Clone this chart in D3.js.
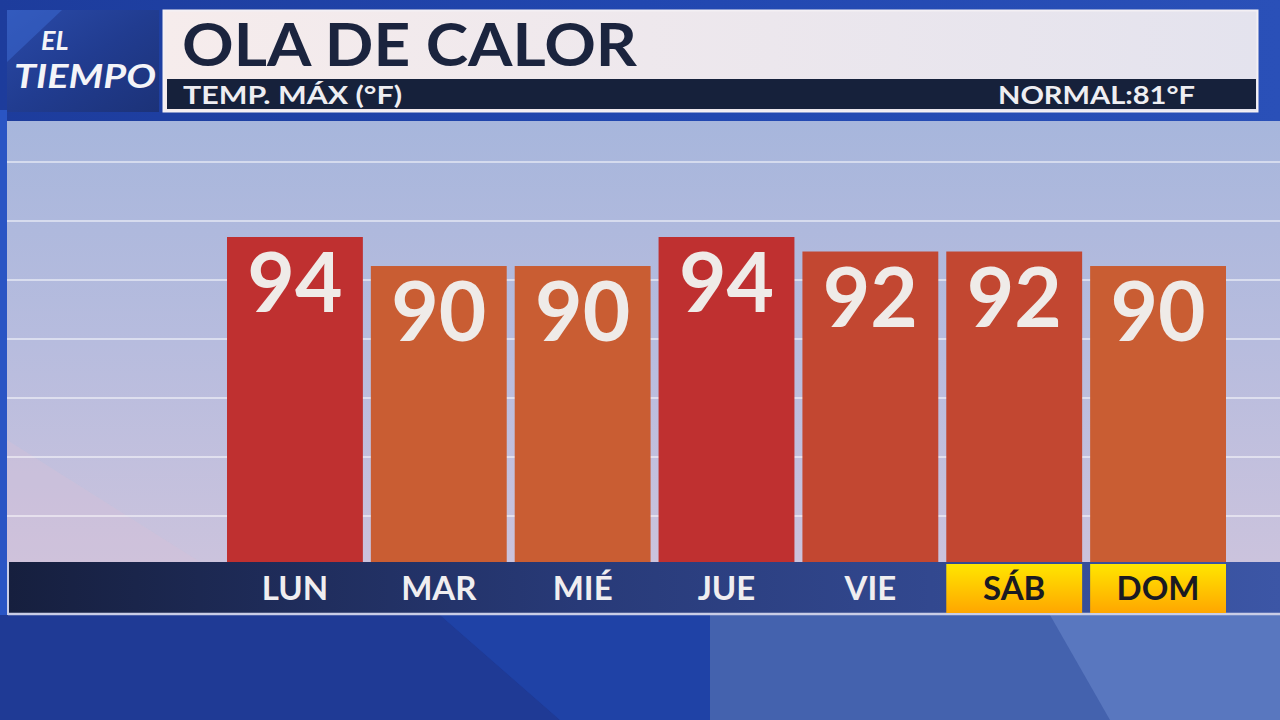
<!DOCTYPE html>
<html>
<head>
<meta charset="utf-8">
<script src="https://cdn.jsdelivr.net/npm/d3@7"></script>
<style>
  html, body { margin: 0; padding: 0; background: #1f3f9e; }
  svg { display: block; }
</style>
</head>
<body>
<svg id="chart" width="1280" height="720"></svg>
<script>
// ---- Data ----
const days = ["LUN", "MAR", "MIÉ", "JUE", "VIE", "SÁB", "DOM"];
const maxTemps = [94, 90, 90, 94, 92, 92, 90];
const weekendDays = ["SÁB", "DOM"];
const titleText = "OLA DE CALOR";
const subtitleLeft = "TEMP. MÁX (°F)";
const subtitleRight = "NORMAL:81°F";
const logoLines = ["EL", "TIEMPO"];

const W = 1280, H = 720;
const svg = d3.select("#chart");
const defs = svg.append("defs");

function linGrad(id, x1, y1, x2, y2, stops) {
  const g = defs.append("linearGradient").attr("id", id)
    .attr("x1", x1).attr("y1", y1).attr("x2", x2).attr("y2", y2);
  stops.forEach(s => g.append("stop").attr("offset", s[0]).attr("stop-color", s[1]));
}
linGrad("bgTop", "0", "0", "1", "0", [["0", "#1d3c9c"], ["0.5", "#2147b0"], ["1", "#2a50b8"]]);
linGrad("panelGrad", "0", "0", "0", "1", [["0", "#a7b6dc"], ["0.5", "#b7bcde"], ["1", "#cbc3dd"]]);
linGrad("axisGrad", "0", "0", "1", "0", [["0", "#161f3e"], ["0.45", "#283a78"], ["1", "#3c56a6"]]);
linGrad("yellowGrad", "0", "0", "0", "1", [["0", "#ffe600"], ["1", "#ffa600"]]);
linGrad("logoGrad", "0", "0", "1", "1", [["0", "#2a4aa8"], ["0.5", "#213c90"], ["1", "#1c3278"]]);
linGrad("titleGrad", "0", "0", "1", "0", [["0", "#f6ecec"], ["1", "#e4e3ee"]]);

// ---- Background ----
svg.append("rect").attr("x", 0).attr("y", 0).attr("width", W).attr("height", H).attr("fill", "#1f3e9e");
svg.append("rect").attr("x", 0).attr("y", 0).attr("width", W).attr("height", 122).attr("fill", "url(#bgTop)");
// bottom decorative planes
svg.append("path").attr("d", "M0,615 L440,615 L560,720 L0,720 Z").attr("fill", "#1f3a95");
svg.append("path").attr("d", "M440,615 L710,615 L710,720 L560,720 Z").attr("fill", "#1f42a6");
svg.append("path").attr("d", "M710,615 L1280,615 L1280,720 L710,720 Z").attr("fill", "#4462ae");
svg.append("path").attr("d", "M1050,615 L1280,615 L1280,720 L1110,720 Z").attr("fill", "#5d7bc2").attr("opacity", 0.85);
svg.append("rect").attr("x", 0).attr("y", 110).attr("width", 7).attr("height", 505).attr("fill", "#2a55c4");

// ---- Panel ----
const panel = { x0: 7, x1: 1280, y0: 121, y1: 562 };
svg.append("rect").attr("x", panel.x0).attr("y", panel.y0)
  .attr("width", panel.x1 - panel.x0).attr("height", panel.y1 - panel.y0)
  .attr("fill", "url(#panelGrad)");
svg.append("path")
  .attr("d", `M${panel.x0},440 L200,${panel.y1} L${panel.x0},${panel.y1} Z`)
  .attr("fill", "#d6c0d8").attr("opacity", 0.35);

// ---- Scales ----
const x = d3.scaleBand().domain(days).range([227, 1226]).paddingInner(8 / 144).paddingOuter(0);
const y = d3.scaleLinear().domain([49.2, 94]).range([panel.y1, 237]);
const color = d3.scaleOrdinal().domain([90, 92, 94]).range(["#c95d33", "#c24731", "#bf3030"]);

// decorative gridlines (evenly spaced)
const gridYs = d3.range(7).map(i => 162 + i * 59);
svg.append("g").selectAll("line").data(gridYs).join("line")
  .attr("x1", panel.x0).attr("x2", panel.x1)
  .attr("y1", d => d).attr("y2", d => d)
  .attr("stroke", "#ffffff").attr("stroke-opacity", 0.5).attr("stroke-width", 2);

// ---- Bars ----
const data = days.map((d, i) => ({ day: d, v: maxTemps[i] }));
svg.append("g").selectAll("rect").data(data).join("rect")
  .attr("x", d => x(d.day)).attr("width", x.bandwidth())
  .attr("y", d => y(d.v)).attr("height", d => y.range()[0] - y(d.v))
  .attr("fill", d => color(d.v));

svg.append("g").selectAll("text").data(data).join("text")
  .attr("x", d => x(d.day) + x.bandwidth() / 2)
  .attr("y", d => y(d.v) + 75)
  .attr("text-anchor", "middle")
  .attr("font-family", "Lato, 'Noto Sans', sans-serif")
  .attr("font-weight", 700)
  .attr("font-size", 82)
  .attr("fill", "#efebe8")
  .text(d => d.v);

// ---- Axis band ----
const axisY0 = 562, axisY1 = 613;
svg.append("rect").attr("x", 9).attr("y", axisY0).attr("width", W - 9).attr("height", axisY1 - axisY0)
  .attr("fill", "url(#axisGrad)");
svg.append("line").attr("x1", 8).attr("x2", W).attr("y1", axisY1 + 1).attr("y2", axisY1 + 1)
  .attr("stroke", "#c9cde6").attr("stroke-width", 2.5);
svg.append("line").attr("x1", 8).attr("x2", 8).attr("y1", axisY0).attr("y2", axisY1 + 2)
  .attr("stroke", "#c9cde6").attr("stroke-width", 2);

svg.append("g").selectAll("rect").data(days.filter(d => weekendDays.includes(d))).join("rect")
  .attr("x", d => x(d)).attr("width", x.bandwidth())
  .attr("y", axisY0 + 2).attr("height", axisY1 - axisY0 - 2)
  .attr("fill", "url(#yellowGrad)");

const xAxis = d3.axisBottom(x).tickSize(0).tickPadding(0);
const axisG = svg.append("g").attr("transform", `translate(0,${axisY0})`).call(xAxis);
axisG.select(".domain").remove();
axisG.selectAll("text")
  .attr("y", 38).attr("dy", null)
  .attr("font-family", "Lato, 'Noto Sans', sans-serif")
  .attr("font-weight", 700)
  .attr("font-size", 33)
  .attr("fill", d => weekendDays.includes(d) ? "#1a1a22" : "#f0eef0");

// ---- Header ----
// logo
svg.append("rect").attr("x", 7).attr("y", 10).attr("width", 152).attr("height", 102).attr("fill", "url(#logoGrad)");
svg.append("path").attr("d", "M7,62 L62,10 L7,10 Z").attr("fill", "#3b68d0").attr("opacity", 0.55);
const logo = svg.append("g").attr("font-family", "Lato, 'Noto Sans', sans-serif")
  .attr("font-style", "italic").attr("font-weight", 700).attr("fill", "#f4f4f8");
logo.append("text").attr("x", 41).attr("y", 50).attr("font-size", 27).text(logoLines[0]);
logo.append("text").attr("x", 14).attr("y", 88).attr("font-size", 32)
  .attr("textLength", 142).attr("lengthAdjust", "spacingAndGlyphs").text(logoLines[1]);

// title box
svg.append("rect").attr("x", 163.5).attr("y", 10.5).attr("width", 1094).attr("height", 101)
  .attr("fill", "url(#titleGrad)").attr("stroke", "#f4f0f4").attr("stroke-width", 2);
svg.append("text").attr("x", 182).attr("y", 66)
  .attr("font-family", "Lato, 'Noto Sans', sans-serif").attr("font-weight", 700)
  .attr("font-size", 60).attr("fill", "#1b243e")
  .attr("textLength", 455).attr("lengthAdjust", "spacingAndGlyphs")
  .text(titleText);
svg.append("rect").attr("x", 167).attr("y", 79).attr("width", 1089).attr("height", 30).attr("fill", "#16213b");
svg.append("text").attr("x", 183).attr("y", 104)
  .attr("font-family", "Lato, 'Noto Sans', sans-serif").attr("font-weight", 700)
  .attr("font-size", 24).attr("fill", "#eeeef2")
  .attr("textLength", 219).attr("lengthAdjust", "spacingAndGlyphs")
  .text(subtitleLeft);
svg.append("text").attr("x", 998).attr("y", 104)
  .attr("font-family", "Lato, 'Noto Sans', sans-serif").attr("font-weight", 700)
  .attr("font-size", 24).attr("fill", "#eeeef2")
  .attr("textLength", 197).attr("lengthAdjust", "spacingAndGlyphs")
  .text(subtitleRight);
</script>
</body>
</html>
